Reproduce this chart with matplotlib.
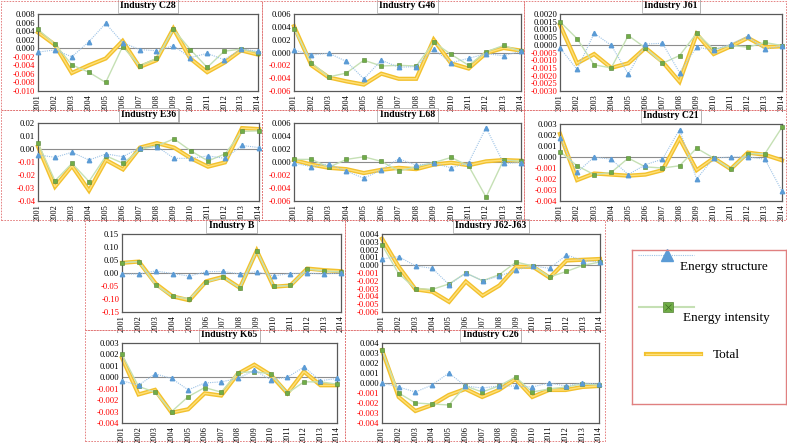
import numpy as np
import matplotlib
matplotlib.use("Agg")
import matplotlib.pyplot as plt
from matplotlib.patches import Rectangle
from matplotlib.lines import Line2D

plt.rcParams['font.family'] = ['Liberation Serif', 'DejaVu Serif']

years = list(range(2001, 2015))

# energy structure / energy intensity / total effect per industry
c28_structure = [-0.0009, -0.0004, -0.0020, 0.0015, 0.0058, 0.0013, -0.0003, -0.0006, 0.0006, -0.0022, -0.0012, -0.0027, -0.0002, -0.0007]
c28_intensity = [0.0044, 0.0010, -0.0039, -0.0056, -0.0080, 0.0004, -0.0041, -0.0024, 0.0044, -0.0003, -0.0045, -0.0007, -0.0002, -0.0010]
c28_total = [0.0037, 0.0008, -0.0058, -0.0040, -0.0024, 0.0017, -0.0044, -0.0028, 0.0046, -0.0024, -0.0056, -0.0034, -0.0005, -0.0015]

g46_structure = [0.0004, -0.0004, -0.0001, -0.0014, -0.0041, -0.0012, -0.0023, -0.0022, 0.0005, -0.0016, -0.0009, -0.0002, -0.0005, 0.0002]
g46_intensity = [0.0037, -0.0016, -0.0038, -0.0032, -0.0012, -0.0021, -0.0020, -0.0021, 0.0016, -0.0003, -0.0020, 0.0001, 0.0011, 0.0002]
g46_total = [0.0041, -0.0020, -0.0039, -0.0045, -0.0050, -0.0033, -0.0041, -0.0041, 0.0020, -0.0017, -0.0025, -0.0001, 0.0007, 0.0003]

j61_structure = [-0.0002, -0.0016, 0.00075, -0.00003, -0.0019, 0.00005, 0.0001, -0.0018, -0.00015, -0.00035, 0.00005, 0.00055, -0.0003, -0.00005]
j61_intensity = [0.0015, 0.0004, -0.0013, -0.0015, 0.0006, -0.0002, -0.0012, -0.0007, 0.00075, -0.0003, -0.00005, -0.00015, 0.00015, -0.00005]
j61_total = [0.0013, -0.0012, -0.0006, -0.0015, -0.0012, -0.0002, -0.0011, -0.0024, 0.0007, -0.0006, -0.0001, 0.00045, -0.00015, -0.0001]

e36_structure = [-0.0045, -0.0064, -0.0025, -0.0085, -0.0038, -0.0059, 0.0011, 0.0019, -0.0072, -0.0072, -0.0053, -0.0072, 0.0027, 0.0011]
e36_intensity = [0.0045, -0.0245, -0.0110, -0.0250, -0.0053, -0.0110, -0.0002, 0.0024, 0.0078, -0.0015, -0.0092, -0.0038, 0.0135, 0.0140]
e36_total = [0.0019, -0.0290, -0.0130, -0.0320, -0.0085, -0.0157, 0.0011, 0.0045, 0.0011, -0.0072, -0.0136, -0.0103, 0.0161, 0.0153]

l68_structure = [-0.0002, -0.0007, -0.0003, -0.0014, -0.0025, -0.0012, 0.0005, -0.0005, -0.0002, -0.0009, -0.0001, 0.0053, -0.0002, -0.0001]
l68_intensity = [0.0004, 0.0004, -0.0008, 0.0004, 0.0008, 0.0001, -0.0014, -0.0007, -0.0001, 0.0007, -0.0006, -0.0054, 0.0003, 0.0001]
l68_total = [0.0003, -0.0004, -0.0009, -0.0011, -0.0017, -0.0012, -0.0009, -0.0011, -0.0004, -0.0001, -0.0005, 0.0001, 0.0003, 0.0002]

c21_structure = [0.0017, -0.0014, 0.0000, -0.0002, -0.0016, -0.0007, -0.0002, 0.0025, -0.0020, -0.0001, 0.0000, 0.0000, -0.0002, -0.0031]
c21_intensity = [0.0005, -0.0008, -0.0016, -0.0014, -0.0001, -0.0009, -0.0010, -0.0008, 0.0008, -0.0001, -0.0011, 0.0003, 0.0003, 0.0027]
c21_total = [0.0021, -0.0021, -0.0015, -0.0016, -0.0017, -0.0016, -0.0012, 0.0017, -0.0012, -0.0001, -0.0011, 0.0004, 0.0002, -0.0003]

b_structure = [-0.0045, -0.004, 0.008, -0.002, -0.012, 0.005, 0.006, -0.004, 0.005, -0.011, -0.002, -0.0005, -0.004, 0.001]
b_intensity = [0.039, 0.044, -0.047, -0.090, -0.099, -0.034, -0.017, -0.057, 0.086, -0.051, -0.048, 0.015, 0.008, 0.004]
b_total = [0.039, 0.044, -0.041, -0.090, -0.105, -0.032, -0.015, -0.057, 0.086, -0.053, -0.048, 0.017, 0.011, 0.007]

j62_structure = [0.0008, 0.0011, -0.0001, -0.0004, -0.0025, -0.0010, -0.0020, -0.0014, -0.0006, -0.0001, -0.0004, 0.0013, 0.0006, 0.0004]
j62_intensity = [0.0026, -0.0011, -0.0030, -0.0031, -0.0024, -0.0010, -0.0020, -0.0012, 0.0004, -0.0001, -0.0015, -0.0008, 0.0000, 0.0004]
j62_total = [0.0034, -0.0002, -0.0031, -0.0034, -0.0047, -0.0021, -0.0039, -0.0026, -0.0002, -0.0002, -0.0016, 0.0006, 0.0007, 0.0008]

k65_structure = [-0.0003, -0.0007, 0.0003, -0.0001, -0.0011, -0.0005, -0.0004, -0.0001, 0.0006, -0.0002, 0.0000, 0.0009, -0.0003, -0.0001]
k65_intensity = [0.0020, -0.0008, -0.0013, -0.0030, -0.0017, -0.0009, -0.0013, 0.0004, 0.0005, 0.0003, -0.0014, -0.0004, -0.0004, -0.0006]
k65_total = [0.0017, -0.0015, -0.0011, -0.0031, -0.0028, -0.0014, -0.0016, 0.0003, 0.0011, 0.0002, -0.0014, 0.0005, -0.0007, -0.0007]

c26_structure = [0.0000, -0.0004, -0.0009, -0.0002, 0.0010, -0.0003, -0.0005, -0.0003, -0.0003, -0.0004, 0.0000, -0.0003, 0.0000, -0.0001]
c26_intensity = [0.0033, -0.0010, -0.0020, -0.0021, -0.0022, -0.0003, -0.0009, -0.0003, 0.0006, -0.0009, -0.0006, -0.0004, -0.0001, -0.0002]
c26_total = [0.0033, -0.0014, -0.0028, -0.0022, -0.0012, -0.0006, -0.0014, -0.0007, 0.0004, -0.0014, -0.0007, -0.0007, -0.0004, -0.0003]

W, H = 787, 443
fig = plt.figure(figsize=(W / 100, H / 100), dpi=100)

# title, data, y-range (lo, hi, step, decimals), axes box in pixels (left, right, top, bottom)
panels = [
    ("Industry C28", c28_structure, c28_intensity, c28_total, (-0.010, 0.008, 0.002, 3), (38, 258, 14, 91)),
    ("Industry G46", g46_structure, g46_intensity, g46_total, (-0.006, 0.006, 0.002, 3), (294, 521, 14, 91)),
    ("Industry J61", j61_structure, j61_intensity, j61_total, (-0.003, 0.002, 0.0005, 4), (560, 782, 14, 91)),
    ("Industry E36", e36_structure, e36_intensity, e36_total, (-0.04, 0.02, 0.01, 2), (38, 259, 123, 201)),
    ("Industry L68", l68_structure, l68_intensity, l68_total, (-0.006, 0.006, 0.002, 3), (294, 521, 123, 201)),
    ("Industry C21", c21_structure, c21_intensity, c21_total, (-0.004, 0.003, 0.001, 3), (560, 782, 124, 201)),
    ("Industry B", b_structure, b_intensity, b_total, (-0.15, 0.15, 0.05, 2), (122, 341, 234, 312)),
    ("Industry J62-J63", j62_structure, j62_intensity, j62_total, (-0.006, 0.004, 0.001, 3), (382, 600, 234, 312)),
    ("Industry K65", k65_structure, k65_intensity, k65_total, (-0.004, 0.003, 0.001, 3), (122, 337, 343, 423)),
    ("Industry C26", c26_structure, c26_intensity, c26_total, (-0.004, 0.004, 0.001, 3), (382, 599, 343, 423)),
]

blue_line, blue_mark = '#9dc3e6', '#5b9bd5'
green_line, green_mark = '#c5e0b4', '#70ad47'
gold, gold_light = '#f2c12e', '#ffe07a'


def add_axes_px(l, r, t, b):
    return fig.add_axes([l / W, 1 - b / H, (r - l) / W, (b - t) / H])


def draw_total(ax, x, y):
    ax.plot(x, y, color=gold, lw=3.0, solid_joinstyle='miter', zorder=2, clip_on=False)
    ax.plot(x, y, color=gold_light, lw=1.0, zorder=2.1, clip_on=False)


for title, s, e, t, (lo, hi, step, dec), box in panels:
    ax = add_axes_px(*box)
    ax.axhline(0, color='#8c8c8c', lw=0.8, zorder=1)
    draw_total(ax, years, t)
    ax.plot(years, e, color=green_line, lw=1.0, marker='s', ms=2.8, mfc=green_mark,
            mec='#548235', mew=0.4, zorder=3, clip_on=False)
    ax.plot(years, s, color=blue_line, lw=0.8, ls=(0, (1, 1)), marker='^', ms=3.2,
            mfc=blue_mark, mec=blue_mark, zorder=4, clip_on=False)
    ax.set_xlim(2001, 2014)
    ax.set_ylim(lo, hi)
    ticks = np.round(np.arange(lo, hi + step / 2, step), 6) + 0.0
    ax.set_yticks(ticks)
    ax.set_yticklabels([f"{abs(v) if abs(v) < 1e-9 else v:.{dec}f}" for v in ticks])
    for v, lbl in zip(ticks, ax.get_yticklabels()):
        lbl.set_color('red' if v < -1e-9 else 'black')
    ax.set_xticks(years)
    ax.set_xticklabels([str(y) for y in years], rotation=90)
    ax.tick_params(axis='y', length=0, labelsize=6.2, pad=2)
    ax.tick_params(axis='x', length=0, labelsize=6.0, pad=2)
    for sp in ax.spines.values():
        sp.set_color('#595959')
        sp.set_linewidth(0.9)
    # title box with a small shadow
    ax.annotate(title, xy=(0.5, 1), xycoords='axes fraction', xytext=(0.8, 5.0),
                textcoords='offset points', ha='center', va='center', fontsize=7,
                fontweight='bold', color=(0, 0, 0, 0), zorder=5, annotation_clip=False,
                bbox=dict(boxstyle='square,pad=0.25', fc='#b0b0b0', ec='none'))
    ax.annotate(title, xy=(0.5, 1), xycoords='axes fraction', xytext=(0, 5.8),
                textcoords='offset points', ha='center', va='center', fontsize=7,
                fontweight='bold', zorder=6, annotation_clip=False,
                bbox=dict(boxstyle='square,pad=0.25', fc='white', ec='#a6a6a6', lw=0.5))

# dashed panel frames
frames = [(1, 1, 262, 110), (262, 1, 524, 110), (524, 1, 786, 110),
          (1, 110, 262, 220), (262, 110, 524, 220), (524, 110, 786, 220),
          (85, 220, 345, 330), (345, 220, 605, 330),
          (85, 330, 345, 441), (345, 330, 605, 441)]
for x0, y0, x1, y1 in frames:
    fig.add_artist(Rectangle((x0 / W, 1 - y1 / H), (x1 - x0) / W, (y1 - y0) / H,
                             transform=fig.transFigure, fill=False, ec='#e07070',
                             lw=0.6, ls=(0, (2, 1.5))))

# legend panel
leg = add_axes_px(632, 786, 250, 404)
leg.set_xlim(632, 786)
leg.set_ylim(404, 250)
leg.set_xticks([])
leg.set_yticks([])
for sp in leg.spines.values():
    sp.set_color('#e08080')
    sp.set_linewidth(1.0)
leg.add_line(Line2D([638, 694], [255, 255], color=blue_line, lw=0.8, ls=(0, (1, 1))))
leg.plot([667], [255], marker='^', ms=9, color=blue_mark, clip_on=False)
leg.text(680, 267, "Energy structure", fontsize=9.5, va='center', ha='left')
leg.add_line(Line2D([639, 694], [307, 307], color=green_line, lw=1.5))
leg.plot([668], [307], marker='s', ms=7, mfc=green_mark, mec='#548235', mew=0.5)
leg.plot([668], [307], marker='x', ms=5, color='#3d6b24', mew=0.5)
leg.text(683, 318, "Energy intensity", fontsize=9.5, va='center', ha='left')
leg.add_line(Line2D([646, 701], [354, 354], color=gold, lw=3.0))
leg.add_line(Line2D([646, 701], [354, 354], color=gold_light, lw=1.0))
leg.text(713, 355, "Total", fontsize=9.5, va='center', ha='left')

fig.savefig("out.png", dpi=100)
